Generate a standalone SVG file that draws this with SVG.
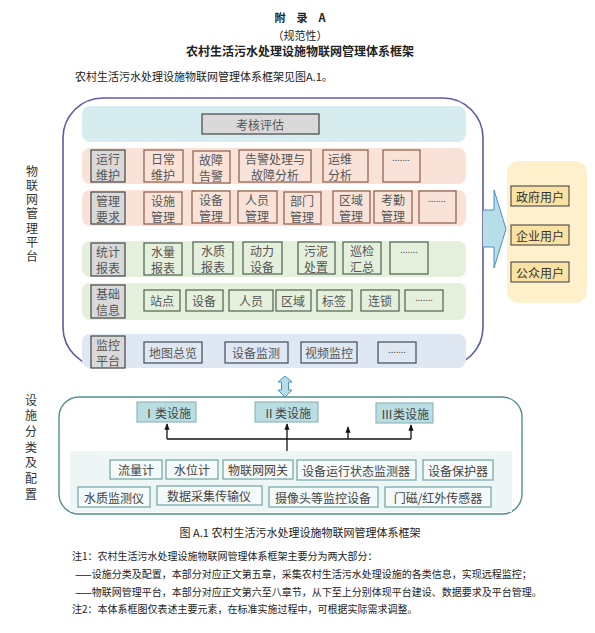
<svg xmlns="http://www.w3.org/2000/svg" width="595" height="633" viewBox="0 0 595 633">
<style>
text{font-family:"Noto Sans CJK SC","Liberation Serif",serif;fill:#222}
.t{font-size:11px;text-anchor:middle}
.b{font-size:12px;text-anchor:middle;fill:#555;dominant-baseline:central}
.d{font-family:"Liberation Serif",serif;font-size:10px;text-anchor:middle;fill:#444}
.side{font-size:12px;text-anchor:middle;fill:#333;writing-mode:vertical-rl}
.note{font-size:10px;fill:#222}
.lab{fill:#d9d9d9;stroke:#444;stroke-width:1.2}
.pk{fill:#f9e3d9;stroke:#8a5a48;stroke-width:1.2}
.gr{fill:#e4efdc;stroke:#4d614d;stroke-width:1.2}
.bl{fill:#dfe7f3;stroke:#3f4b5c;stroke-width:1.2}
.us{fill:#fbe1a2;stroke:#555;stroke-width:1.2}
.fc{fill:#b9dde0;stroke:#8fb8bb;stroke-width:1.2}
.fb{fill:#f4f9f9;stroke:#6ea3a3;stroke-width:1.2}
.f{font-size:12px;text-anchor:middle;fill:#444;dominant-baseline:central}
.con{stroke:#111;stroke-width:1.3;fill:none}
</style>
<defs>
<marker id="ah" viewBox="0 0 10 10" refX="9" refY="5" markerWidth="5" markerHeight="5" orient="auto"><path d="M0,1 L10,5 L0,9 z" fill="#111"/></marker>
</defs>

<g id="header">
<text x="300" y="22" class="t" style="font-weight:bold">附　录　A</text>
<text x="300" y="40" class="t">（规范性）</text>
<text x="300" y="56" class="t" style="font-size:12px;font-weight:bold">农村生活污水处理设施物联网管理体系框架</text>
<text x="75" y="81" style="font-size:11px">农村生活污水处理设施物联网管理体系框架见图A.1。</text>
</g>

<g id="platform">
<rect x="63" y="98" width="420" height="269" rx="40" ry="40" fill="#fff" stroke="#5b5ba8" stroke-width="1.6"/>
<rect x="82" y="106" width="384" height="36" rx="8" fill="#d6ecee"/>
<rect x="82" y="148" width="384" height="36" rx="8" fill="#f9e3d9"/>
<rect x="82" y="190" width="384" height="36" rx="8" fill="#f9e3d9"/>
<rect x="82" y="241" width="384" height="36" rx="8" fill="#e4efdc"/>
<rect x="82" y="283" width="384" height="37" rx="8" fill="#e4efdc"/>
<rect x="82" y="334" width="384" height="34" rx="8" fill="#dfe7f3"/>
</g>

<g id="kaohe">
<rect x="202" y="114" width="117" height="20" class="lab"/>
<text x="260" y="124" class="b">考核评估</text>
</g>

<g id="row-yunxing">
<rect x="91" y="150" width="34" height="32" class="lab"/><text x="108" y="158" class="b">运行</text><text x="108" y="174" class="b">维护</text>
<rect x="144" y="150" width="39" height="32" class="pk"/><text x="163" y="158" class="b">日常</text><text x="163" y="174" class="b">维护</text>
<rect x="193" y="151" width="37" height="32" class="pk"/><text x="211" y="159" class="b">故障</text><text x="211" y="175" class="b">告警</text>
<rect x="239" y="150" width="72" height="32" class="pk"/><text x="275" y="158" class="b">告警处理与</text><text x="275" y="174" class="b">故障分析</text>
<rect x="323" y="150" width="45" height="32" class="pk"/><text x="340" y="158" class="b">运维</text><text x="340" y="174" class="b">分析</text>
<rect x="383" y="150" width="37" height="32" class="pk"/><text x="401" y="161" class="d">.......</text>
</g>

<g id="row-guanli">
<rect x="91" y="192" width="34" height="32" class="lab"/><text x="108" y="200" class="b">管理</text><text x="108" y="216" class="b">要求</text>
<rect x="144" y="192" width="38" height="32" class="pk"/><text x="163" y="200" class="b">设施</text><text x="163" y="216" class="b">管理</text>
<rect x="192" y="191" width="38" height="32" class="pk"/><text x="211" y="199" class="b">设备</text><text x="211" y="215" class="b">管理</text>
<rect x="238" y="191" width="39" height="32" class="pk"/><text x="257" y="199" class="b">人员</text><text x="257" y="215" class="b">管理</text>
<rect x="284" y="192" width="37" height="32" class="pk"/><text x="302" y="200" class="b">部门</text><text x="302" y="216" class="b">管理</text>
<rect x="333" y="191" width="37" height="32" class="pk"/><text x="351" y="199" class="b">区域</text><text x="351" y="215" class="b">管理</text>
<rect x="374" y="191" width="38" height="32" class="pk"/><text x="393" y="199" class="b">考勤</text><text x="393" y="215" class="b">管理</text>
<rect x="419" y="191" width="37" height="32" class="pk"/><text x="437" y="202" class="d">.......</text>
</g>

<g id="row-tongji">
<rect x="91" y="243" width="34" height="33" class="lab"/><text x="108" y="251" class="b">统计</text><text x="108" y="267" class="b">报表</text>
<rect x="144" y="243" width="38" height="32" class="gr"/><text x="163" y="251" class="b">水量</text><text x="163" y="267" class="b">报表</text>
<rect x="193" y="242" width="40" height="32" class="gr"/><text x="213" y="250" class="b">水质</text><text x="213" y="266" class="b">报表</text>
<rect x="243" y="242" width="39" height="32" class="gr"/><text x="262" y="250" class="b">动力</text><text x="262" y="266" class="b">设备</text>
<rect x="298" y="242" width="37" height="32" class="gr"/><text x="316" y="250" class="b">污泥</text><text x="316" y="266" class="b">处置</text>
<rect x="343" y="242" width="38" height="32" class="gr"/><text x="362" y="250" class="b">巡检</text><text x="362" y="266" class="b">汇总</text>
<rect x="390" y="242" width="38" height="32" class="gr"/><text x="409" y="253" class="d">.......</text>
</g>

<g id="row-jichu">
<rect x="91" y="285" width="34" height="33" class="lab"/><text x="108" y="293" class="b">基础</text><text x="108" y="309" class="b">信息</text>
<rect x="144" y="290" width="36" height="21" class="gr"/><text x="162" y="300" class="b">站点</text>
<rect x="186" y="290" width="37" height="21" class="gr"/><text x="204" y="300" class="b">设备</text>
<rect x="229" y="290" width="44" height="21" class="gr"/><text x="251" y="300" class="b">人员</text>
<rect x="276" y="290" width="35" height="21" class="gr"/><text x="293" y="300" class="b">区域</text>
<rect x="317" y="290" width="35" height="21" class="gr"/><text x="334" y="300" class="b">标签</text>
<rect x="361" y="290" width="38" height="21" class="gr"/><text x="380" y="300" class="b">连锁</text>
<rect x="405" y="290" width="38" height="21" class="gr"/><text x="424" y="301" class="d">.......</text>
</g>

<g id="row-jiankong">
<rect x="91" y="336" width="34" height="32" class="lab"/><text x="108" y="344" class="b">监控</text><text x="108" y="360" class="b">平台</text>
<rect x="144" y="342" width="58" height="21" class="bl"/><text x="173" y="352" class="b">地图总览</text>
<rect x="225" y="342" width="63" height="21" class="bl"/><text x="256" y="352" class="b">设备监测</text>
<rect x="301" y="342" width="56" height="21" class="bl"/><text x="329" y="352" class="b">视频监控</text>
<rect x="378" y="342" width="38" height="21" class="bl"/><text x="397" y="353" class="d">.......</text>
</g>

<g id="side-labels">
<text x="32" y="215" class="side" style="letter-spacing:2.2px">物联网管理平台</text>
<text x="31" y="449" class="side" style="letter-spacing:3.7px">设施分类及配置</text>
</g>

<g id="users">
<rect x="507" y="161" width="80" height="142" rx="12" fill="#fdf0cb"/>
<rect x="511" y="186" width="58" height="20" class="us"/><text x="540" y="196" class="b" style="fill:#333">政府用户</text>
<rect x="511" y="225" width="58" height="20" class="us"/><text x="540" y="235" class="b" style="fill:#333">企业用户</text>
<rect x="511" y="262" width="58" height="20" class="us"/><text x="540" y="272" class="b" style="fill:#333">公众用户</text>
</g>

<g id="facilities">
<rect x="59" y="397" width="463" height="117" rx="20" fill="#fff" stroke="#4f8f8f" stroke-width="1.4"/>
<rect x="70" y="451" width="442" height="61" fill="#eef5f5"/>
<rect x="137" y="402" width="59" height="20" class="fc"/><text x="167" y="412" class="f">Ⅰ类设施</text>
<rect x="255" y="402" width="63" height="20" class="fc"/><text x="287" y="412" class="f">Ⅱ类设施</text>
<rect x="376" y="403" width="57" height="20" class="fc"/><text x="405" y="413" class="f">Ⅲ类设施</text>
<rect x="110" y="460" width="52" height="19" class="fb"/><text x="136" y="469.5" class="f">流量计</text>
<rect x="166" y="460" width="52" height="19" class="fb"/><text x="192" y="469.5" class="f">水位计</text>
<rect x="223" y="460" width="70" height="19" class="fb"/><text x="258" y="469.5" class="f">物联网网关</text>
<rect x="297" y="460" width="119" height="20" class="fb"/><text x="356" y="470" class="f">设备运行状态监测器</text>
<rect x="423" y="460" width="70" height="20" class="fb"/><text x="458" y="470" class="f">设备保护器</text>
<rect x="78" y="487" width="72" height="20" class="fb"/><text x="114" y="497" class="f">水质监测仪</text>
<rect x="157" y="486" width="105" height="19" class="fb"/><text x="209" y="495.5" class="f">数据采集传输仪</text>
<rect x="269" y="487" width="109" height="20" class="fb"/><text x="323" y="497" class="f">摄像头等监控设备</text>
<rect x="385" y="487" width="106" height="20" class="fb"/><text x="438" y="497" class="f">门磁/红外传感器</text>
</g>

<g id="connectors">
<path d="M483,210 H494 V190 L506,229 L494,268 V247 H483" fill="#b7dde8" stroke="#4a8fc0" stroke-width="1"/>
<path d="M285,376 L292,382 H288.5 V390 H292 L285,397 L278,390 H281.5 V382 H278 Z" fill="#b7dde8" stroke="#4a8fc0" stroke-width="1"/>
<path class="con" d="M167,439 H411"/>
<path class="con" d="M167,439 V424" marker-end="url(#ah)"/>
<path class="con" d="M287,451 V424" marker-end="url(#ah)"/>
<path class="con" d="M348,439 V427" marker-end="url(#ah)"/>
<path class="con" d="M411,439 V425" marker-end="url(#ah)"/>
</g>

<g id="caption">
<text x="300" y="537" class="t">图 A.1 农村生活污水处理设施物联网管理体系框架</text>
<text x="72" y="560" class="note">注1：农村生活污水处理设施物联网管理体系框架主要分为两大部分：</text>
<text x="75" y="578" class="note">——设施分类及配置，本部分对应正文第五章，采集农村生活污水处理设施的各类信息，实现远程监控；</text>
<text x="75" y="596" class="note">——物联网管理平台，本部分对应正文第六至八章节，从下至上分别体现平台建设、数据要求及平台管理。</text>
<text x="72" y="613" class="note">注2：本体系框图仅表述主要元素，在标准实施过程中，可根据实际需求调整。</text>
</g>
</svg>
